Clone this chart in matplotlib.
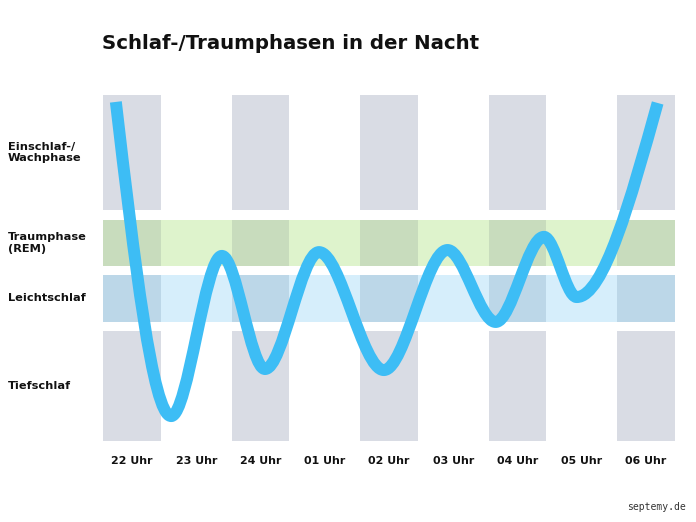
import matplotlib
matplotlib.use("Agg")
import matplotlib.pyplot as plt
from matplotlib.path import Path
from matplotlib.patches import PathPatch, Rectangle
from matplotlib.transforms import blended_transform_factory

# ---- data ----
hours = ["22 Uhr", "23 Uhr", "24 Uhr", "01 Uhr", "02 Uhr", "03 Uhr", "04 Uhr", "05 Uhr", "06 Uhr"]
phase_labels = ["Tiefschlaf", "Leichtschlaf", "Traumphase\n(REM)", "Einschlaf-/\nWachphase"]
phase_low = [0.0, 34.4, 50.6, 66.8]
phase_high = [31.8, 48.0, 63.9, 100.0]
# sleep curve key points (x in hours after 22 Uhr, y in level 0..100)
curve_x = [-0.25, 0.61, 1.40, 2.07, 2.91, 3.92, 4.91, 5.66, 6.41, 6.92, 8.18]
curve_y = [98.0, 7.2, 53.5, 20.8, 54.6, 20.5, 55.2, 34.4, 59.0, 41.6, 97.7]

title = "Schlaf-/Traumphasen in der Nacht"
source = "septemy.de"

FONT = "DejaVu Sans"
WEIGHT = "bold"

# ---- style ----
W, H = 696, 522
fig = plt.figure(figsize=(W / 100, H / 100), dpi=100)
ax = fig.add_axes([103 / W, (H - 441) / H, 572 / W, 346 / H])
ax.set_xlim(-0.45, len(hours) - 1 + 0.45)
ax.set_ylim(0, 100)
for s in ax.spines.values():
    s.set_visible(False)
ax.set_yticks([])
ax.set_xticks(range(len(hours)))
ax.set_xticklabels(hours, fontfamily=FONT, fontweight=WEIGHT, fontsize=7.9, color="#111111")
ax.tick_params(axis="x", length=0, pad=11)

col_w = 0.9
grey = "#d9dce4"
band_light = [None, "#d6eefb", "#def3cc", None]
band_dark = [grey, "#bcd7e8", "#c8dcbd", grey]
x0, x1 = ax.get_xlim()
for i in range(len(phase_low)):
    lo, hi = phase_low[i], phase_high[i]
    if band_light[i]:
        ax.add_patch(Rectangle((x0, lo), x1 - x0, hi - lo, facecolor=band_light[i], edgecolor="none", zorder=1))
    for k in range(0, len(hours), 2):
        ax.add_patch(Rectangle((k - col_w / 2, lo), col_w, hi - lo, facecolor=band_dark[i], edgecolor="none", zorder=2))

# smooth curve: Bezier segments with horizontal tangents at the turning points
verts = [(curve_x[0], curve_y[0])]
codes = [Path.MOVETO]
n = len(curve_x)
for i in range(n - 1):
    xa, ya, xb, yb = curve_x[i], curve_y[i], curve_x[i + 1], curve_y[i + 1]
    h = xb - xa
    slope = (yb - ya) / h
    ma = 1.5 * slope if i == 0 else 0.0
    mb = 1.5 * slope if i == n - 2 else 0.0
    verts += [(xa + h / 3, ya + ma * h / 3), (xb - h / 3, yb - mb * h / 3), (xb, yb)]
    codes += [Path.CURVE4] * 3
ax.add_patch(PathPatch(Path(verts, codes), facecolor="none", edgecolor="#3dbdf5",
                       lw=8.6, capstyle="butt", joinstyle="round", zorder=5, clip_on=False))

# phase labels on the left
tr = blended_transform_factory(fig.transFigure, ax.transData)
for lab, lo, hi in zip(phase_labels, phase_low, phase_high):
    ax.text(8 / W, (lo + hi) / 2, lab, transform=tr, ha="left", va="center",
            fontfamily=FONT, fontweight=WEIGHT, fontsize=8.2, color="#111111",
            linespacing=1.15)

fig.text(102 / W, 1 - 49 / H, title, ha="left", va="baseline",
         fontfamily=FONT, fontweight=WEIGHT, fontsize=14.2, color="#111111")
fig.text(686 / W, 1 - 507 / H, source, ha="right", va="center",
         fontfamily="DejaVu Sans Mono", fontsize=7, color="#333333")

fig.savefig("out.png", dpi=100, facecolor="white")
